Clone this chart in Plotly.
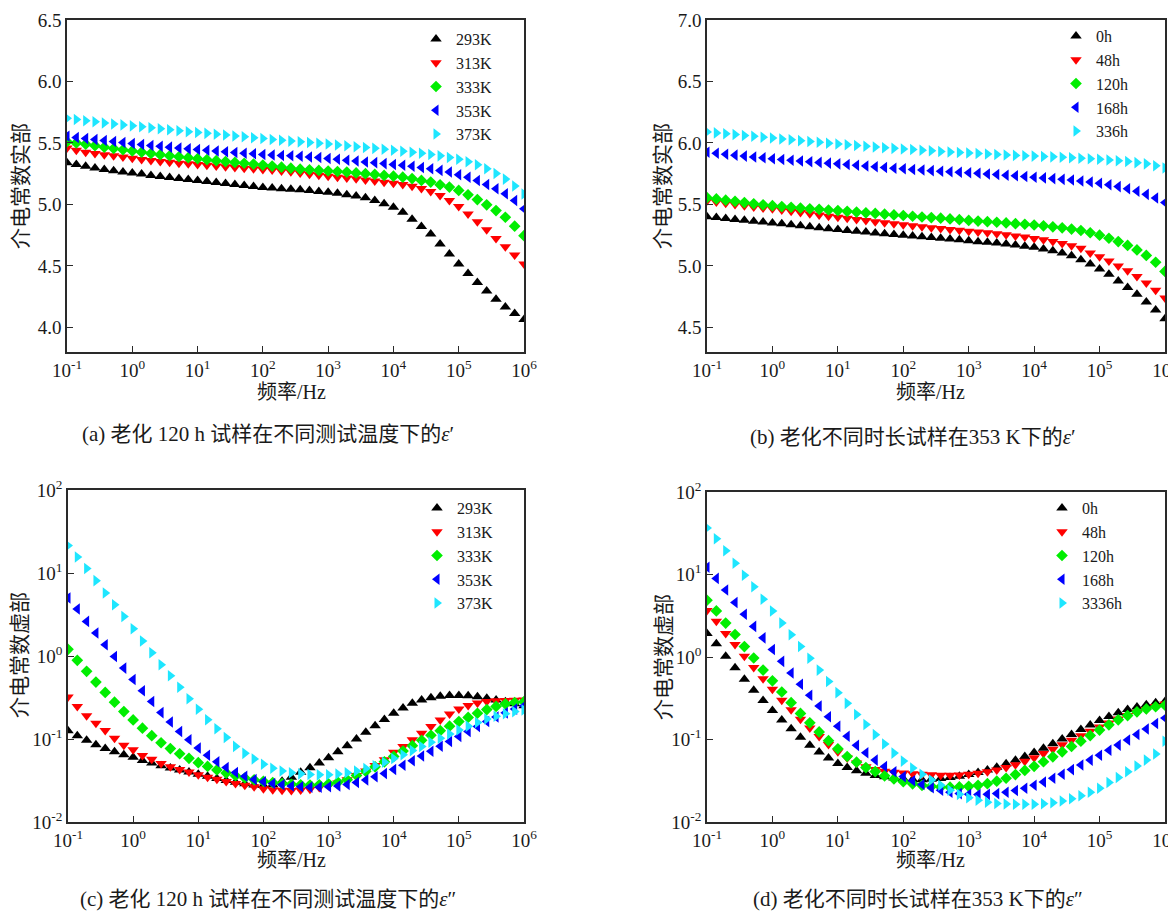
import plotly.graph_objects as go

# page body has an 8px margin: figure is drawn from (8, 8)
PAGE_W, PAGE_H, BODY = 1176, 913, 8
W, H = PAGE_W - BODY, PAGE_H - BODY

# ---------------- data ----------------
freq_hz = [0.1, 0.1389, 0.1931, 0.2683, 0.3728, 0.5179, 0.7197,
           1, 1.389, 1.931, 2.683, 3.728, 5.179, 7.197,
           10, 13.89, 19.31, 26.83, 37.28, 51.79, 71.97,
           100, 138.9, 193.1, 268.3, 372.8, 517.9, 719.7,
           1000, 1389, 1931, 2683, 3728, 5179, 7197,
           1e4, 13895, 19307, 26827, 37276, 51795, 71969,
           1e5, 138950, 193070, 268270, 372760, 517950, 719690, 1e6]

temp_labels = ["293K", "313K", "333K", "353K", "373K"]
age_labels_b = ["0h", "48h", "120h", "168h", "336h"]
age_labels_d = ["0h", "48h", "120h", "168h", "3336h"]

# (a) real part, aged 120 h, different temperatures
a_293K = [5.34, 5.324, 5.31, 5.297, 5.285, 5.275, 5.264, 5.256, 5.247, 5.236,
          5.228, 5.22, 5.21, 5.203, 5.195, 5.187, 5.179, 5.17, 5.163, 5.155,
          5.146, 5.138, 5.133, 5.127, 5.124, 5.12, 5.114, 5.105, 5.10, 5.092,
          5.078, 5.068, 5.054, 5.032, 5.005, 4.978, 4.937, 4.88, 4.82, 4.76,
          4.678, 4.596, 4.515, 4.439, 4.365, 4.297, 4.23, 4.166, 4.114, 4.065]
a_313K = [5.46, 5.44, 5.425, 5.415, 5.405, 5.395, 5.385, 5.375, 5.365, 5.357,
          5.35, 5.343, 5.336, 5.33, 5.324, 5.318, 5.312, 5.306, 5.30, 5.295,
          5.29, 5.285, 5.28, 5.272, 5.265, 5.255, 5.245, 5.238, 5.23, 5.222,
          5.215, 5.208, 5.198, 5.19, 5.18, 5.172, 5.162, 5.148, 5.13, 5.105,
          5.073, 5.032, 4.983, 4.923, 4.86, 4.795, 4.724, 4.656, 4.588, 4.515]
a_333K = [5.51, 5.50, 5.49, 5.478, 5.466, 5.455, 5.445, 5.435, 5.425, 5.415,
          5.405, 5.396, 5.388, 5.38, 5.372, 5.364, 5.356, 5.349, 5.342, 5.335,
          5.328, 5.32, 5.312, 5.303, 5.295, 5.287, 5.282, 5.277, 5.272, 5.268,
          5.263, 5.256, 5.25, 5.244, 5.236, 5.23, 5.222, 5.21, 5.195, 5.182,
          5.16, 5.141, 5.114, 5.078, 5.04, 4.997, 4.95, 4.896, 4.823, 4.746]
a_353K = [5.555, 5.545, 5.537, 5.528, 5.52, 5.512, 5.504, 5.496, 5.488, 5.48,
          5.473, 5.466, 5.459, 5.452, 5.446, 5.44, 5.434, 5.428, 5.422, 5.417,
          5.412, 5.407, 5.402, 5.398, 5.396, 5.392, 5.386, 5.381, 5.373, 5.367,
          5.359, 5.354, 5.345, 5.34, 5.332, 5.324, 5.318, 5.31, 5.30, 5.29,
          5.277, 5.264, 5.242, 5.222, 5.195, 5.163, 5.127, 5.087, 5.032, 4.964]
a_373K = [5.70, 5.69, 5.681, 5.672, 5.663, 5.655, 5.647, 5.639, 5.631, 5.623,
          5.615, 5.607, 5.599, 5.592, 5.585, 5.578, 5.571, 5.564, 5.557, 5.55,
          5.543, 5.536, 5.529, 5.522, 5.515, 5.509, 5.503, 5.497, 5.491, 5.484,
          5.477, 5.47, 5.463, 5.456, 5.449, 5.441, 5.433, 5.425, 5.416, 5.406,
          5.395, 5.382, 5.367, 5.348, 5.322, 5.29, 5.252, 5.206, 5.15, 5.085]

# (b) real part at 353 K, different ageing times
b_0h = [5.40, 5.393, 5.386, 5.378, 5.371, 5.364, 5.357, 5.35, 5.342, 5.334,
        5.326, 5.318, 5.31, 5.303, 5.296, 5.289, 5.282, 5.275, 5.268, 5.262,
        5.256, 5.25, 5.244, 5.238, 5.232, 5.226, 5.219, 5.213, 5.205, 5.197,
        5.192, 5.186, 5.178, 5.17, 5.159, 5.151, 5.137, 5.123, 5.105, 5.083,
        5.05, 5.015, 4.974, 4.933, 4.878, 4.824, 4.77, 4.707, 4.641, 4.571]
b_48h = [5.53, 5.52, 5.51, 5.50, 5.49, 5.48, 5.472, 5.464, 5.454, 5.444,
         5.434, 5.424, 5.414, 5.405, 5.396, 5.387, 5.378, 5.369, 5.36, 5.351,
         5.342, 5.334, 5.326, 5.318, 5.311, 5.304, 5.297, 5.29, 5.283, 5.276,
         5.269, 5.261, 5.253, 5.244, 5.235, 5.224, 5.212, 5.198, 5.182, 5.164,
         5.143, 5.105, 5.075, 5.04, 5.0, 4.96, 4.915, 4.862, 4.803, 4.74]
b_120h = [5.555, 5.545, 5.535, 5.525, 5.515, 5.505, 5.497, 5.49, 5.483, 5.477,
          5.471, 5.465, 5.46, 5.455, 5.45, 5.444, 5.438, 5.432, 5.427, 5.421,
          5.415, 5.41, 5.404, 5.398, 5.393, 5.388, 5.382, 5.376, 5.37, 5.365,
          5.36, 5.355, 5.35, 5.344, 5.339, 5.333, 5.326, 5.318, 5.31, 5.30,
          5.288, 5.27, 5.25, 5.225, 5.198, 5.167, 5.13, 5.085, 5.03, 4.955]
b_168h = [5.925, 5.917, 5.909, 5.901, 5.893, 5.886, 5.879, 5.872, 5.866, 5.86,
          5.854, 5.848, 5.842, 5.836, 5.83, 5.824, 5.818, 5.812, 5.806, 5.80,
          5.795, 5.79, 5.785, 5.78, 5.775, 5.77, 5.766, 5.762, 5.758, 5.753,
          5.748, 5.743, 5.738, 5.733, 5.728, 5.722, 5.716, 5.71, 5.704, 5.698,
          5.69, 5.682, 5.672, 5.66, 5.645, 5.628, 5.607, 5.582, 5.553, 5.515]
b_336h = [6.09, 6.082, 6.075, 6.068, 6.061, 6.054, 6.047, 6.04, 6.033, 6.026,
          6.019, 6.012, 6.005, 5.998, 5.991, 5.985, 5.979, 5.973, 5.967, 5.961,
          5.956, 5.951, 5.946, 5.941, 5.936, 5.931, 5.926, 5.922, 5.918, 5.914,
          5.91, 5.906, 5.902, 5.899, 5.896, 5.893, 5.89, 5.887, 5.883, 5.88,
          5.876, 5.872, 5.867, 5.862, 5.856, 5.849, 5.84, 5.83, 5.815, 5.797]

# (c) imaginary part, aged 120 h, different temperatures  (log10 of eps'')
c_293K_lg = [-0.90, -0.96, -1.015, -1.068, -1.113, -1.155, -1.19, -1.22, -1.258, -1.29,
             -1.322, -1.348, -1.373, -1.397, -1.424, -1.45, -1.475, -1.50, -1.522, -1.54,
             -1.553, -1.56, -1.55, -1.51, -1.46, -1.40, -1.345, -1.29, -1.225, -1.155,
             -1.08, -1.0, -0.92, -0.84, -0.765, -0.69, -0.625, -0.57, -0.53, -0.503,
             -0.485, -0.476, -0.475, -0.48, -0.49, -0.51, -0.53, -0.55, -0.575, -0.60]
c_313K_lg = [-0.495, -0.608, -0.72, -0.81, -0.898, -0.99, -1.075, -1.13, -1.20, -1.245,
             -1.295, -1.333, -1.366, -1.398, -1.432, -1.46, -1.486, -1.512, -1.535, -1.557,
             -1.575, -1.598, -1.61, -1.618, -1.62, -1.615, -1.605, -1.585, -1.56, -1.53,
             -1.49, -1.44, -1.385, -1.32, -1.25, -1.16, -1.09, -1.01, -0.93, -0.85,
             -0.77, -0.70, -0.64, -0.595, -0.565, -0.548, -0.54, -0.535, -0.532, -0.53]
c_333K_lg = [0.08, -0.052, -0.185, -0.314, -0.439, -0.556, -0.67, -0.77, -0.87, -0.96,
             -1.045, -1.115, -1.178, -1.233, -1.285, -1.33, -1.372, -1.41, -1.443, -1.47,
             -1.492, -1.51, -1.525, -1.537, -1.545, -1.552, -1.555, -1.552, -1.54, -1.52,
             -1.49, -1.44, -1.39, -1.335, -1.275, -1.21, -1.145, -1.08, -1.015, -0.955,
             -0.90, -0.845, -0.79, -0.74, -0.69, -0.645, -0.607, -0.578, -0.56, -0.55]
c_353K_lg = [0.70, 0.566, 0.417, 0.276, 0.135, -0.005, -0.146, -0.283, -0.418, -0.549,
             -0.682, -0.795, -0.91, -1.008, -1.109, -1.197, -1.274, -1.344, -1.403, -1.45,
             -1.488, -1.515, -1.535, -1.55, -1.565, -1.575, -1.58, -1.58, -1.575, -1.565,
             -1.547, -1.525, -1.494, -1.456, -1.415, -1.368, -1.316, -1.262, -1.205, -1.148,
             -1.088, -1.03, -0.97, -0.91, -0.85, -0.79, -0.735, -0.685, -0.64, -0.60]
c_373K_lg = [1.33, 1.194, 1.053, 0.908, 0.759, 0.618, 0.477, 0.328, 0.18, 0.04,
             -0.105, -0.239, -0.376, -0.515, -0.642, -0.767, -0.877, -0.982, -1.089, -1.173,
             -1.24, -1.305, -1.353, -1.386, -1.406, -1.42, -1.428, -1.432, -1.43, -1.422,
             -1.406, -1.386, -1.355, -1.322, -1.28, -1.235, -1.19, -1.14, -1.09, -1.04,
             -0.99, -0.94, -0.892, -0.845, -0.80, -0.76, -0.725, -0.695, -0.67, -0.65]

# (d) imaginary part at 353 K, different ageing times  (log10 of eps'')
d_0h_lg = [0.285, 0.16, 0.01, -0.13, -0.271, -0.402, -0.528, -0.65, -0.765, -0.869,
           -0.972, -1.07, -1.152, -1.225, -1.292, -1.339, -1.38, -1.408, -1.435, -1.452,
           -1.467, -1.477, -1.485, -1.487, -1.482, -1.472, -1.46, -1.445, -1.425, -1.40,
           -1.37, -1.335, -1.295, -1.252, -1.205, -1.157, -1.105, -1.052, -0.995, -0.94,
           -0.88, -0.825, -0.77, -0.722, -0.675, -0.635, -0.605, -0.58, -0.555, -0.54]
d_48h_lg = [0.565, 0.432, 0.285, 0.151, 0.008, -0.128, -0.263, -0.39, -0.523, -0.64,
            -0.756, -0.862, -0.964, -1.06, -1.15, -1.225, -1.285, -1.33, -1.365, -1.385,
            -1.398, -1.407, -1.415, -1.422, -1.428, -1.432, -1.433, -1.43, -1.422, -1.41,
            -1.392, -1.37, -1.34, -1.305, -1.265, -1.22, -1.17, -1.118, -1.065, -1.01,
            -0.955, -0.90, -0.848, -0.80, -0.752, -0.71, -0.67, -0.635, -0.60, -0.57]
d_120h_lg = [0.688, 0.558, 0.411, 0.273, 0.126, -0.012, -0.159, -0.289, -0.424, -0.554,
             -0.684, -0.798, -0.908, -1.014, -1.112, -1.206, -1.275, -1.34, -1.389, -1.44,
             -1.479, -1.511, -1.537, -1.556, -1.568, -1.576, -1.578, -1.575, -1.568, -1.556,
             -1.535, -1.505, -1.47, -1.425, -1.375, -1.325, -1.27, -1.21, -1.15, -1.085,
             -1.02, -0.952, -0.886, -0.822, -0.762, -0.71, -0.665, -0.63, -0.603, -0.585]
d_168h_lg = [1.088, 0.953, 0.811, 0.66, 0.517, 0.371, 0.232, 0.09, -0.053, -0.195,
             -0.33, -0.464, -0.595, -0.725, -0.839, -0.961, -1.071, -1.16, -1.25, -1.328,
             -1.392, -1.45, -1.50, -1.545, -1.585, -1.615, -1.64, -1.656, -1.665, -1.668,
             -1.665, -1.656, -1.64, -1.617, -1.59, -1.555, -1.515, -1.47, -1.42, -1.365,
             -1.31, -1.25, -1.19, -1.13, -1.068, -1.005, -0.94, -0.873, -0.806, -0.74]
d_3336h_lg = [1.564, 1.434, 1.287, 1.136, 0.99, 0.851, 0.701, 0.558, 0.411, 0.269,
              0.126, -0.016, -0.159, -0.297, -0.432, -0.562, -0.697, -0.819, -0.941, -1.055,
              -1.165, -1.262, -1.345, -1.42, -1.49, -1.555, -1.615, -1.665, -1.705, -1.737,
              -1.76, -1.775, -1.783, -1.786, -1.786, -1.784, -1.778, -1.766, -1.746, -1.718,
              -1.682, -1.64, -1.59, -1.52, -1.46, -1.39, -1.32, -1.25, -1.175, -1.02]

x_tick_vals = [0.1, 1, 10, 100, 1e3, 1e4, 1e5, 1e6]
x_tick_text = ["10<sup>-1</sup>", "10<sup>0</sup>", "10<sup>1</sup>", "10<sup>2</sup>",
               "10<sup>3</sup>", "10<sup>4</sup>", "10<sup>5</sup>", "10<sup>6</sup>"]
log_y_vals = [0.01, 0.1, 1, 10, 100]
log_y_text = ["10<sup>-2</sup>", "10<sup>-1</sup>", "10<sup>0</sup>", "10<sup>1</sup>", "10<sup>2</sup>"]

x_title = "频率/Hz"
y_titles = ["介电常数实部", "介电常数实部", "介电常数虚部", "介电常数虚部"]
captions = ["(a) 老化 120 h 试样在不同测试温度下的<i>ε</i>′",
            "(b) 老化不同时长试样在353 K下的<i>ε</i>′",
            "(c) 老化 120 h 试样在不同测试温度下的<i>ε</i>″",
            "(d) 老化不同时长试样在353 K下的<i>ε</i>″"]

# ---------------- styling ----------------
symbols = ["triangle-up", "triangle-down", "diamond", "triangle-left", "triangle-right"]
sizes = [10, 10, 9, 10, 10]
colors = ["#000000", "#ff0000", "#00ee00", "#0000ff", "#1ee6ff"]
FONT = "Liberation Serif, Times New Roman, Noto Sans CJK SC, serif"
TXT = "#1a1a1a"
AX = "#2a2a2a"


def px_x(x):
    """page pixel x -> paper fraction"""
    return (x - BODY) / W


def px_y(y):
    """page pixel y -> paper fraction"""
    return 1 - (y - BODY) / H


# plot-area boxes in page pixels: (left, right, top, bottom)
boxes = {
    "a": (67, 524, 20, 352),
    "b": (707, 1165, 20, 352),
    "c": (68, 524, 490, 822),
    "d": (707, 1165, 492, 822),
}

fig = go.Figure()

panels = [
    ("a", [a_293K, a_313K, a_333K, a_353K, a_373K], temp_labels, False),
    ("b", [b_0h, b_48h, b_120h, b_168h, b_336h], age_labels_b, False),
    ("c", [c_293K_lg, c_313K_lg, c_333K_lg, c_353K_lg, c_373K_lg], temp_labels, True),
    ("d", [d_0h_lg, d_48h_lg, d_120h_lg, d_168h_lg, d_3336h_lg], age_labels_d, True),
]

for pi, (key, series, labels, is_log) in enumerate(panels):
    n = pi + 1
    xa = "x" if n == 1 else f"x{n}"
    ya = "y" if n == 1 else f"y{n}"
    leg = "legend" if n == 1 else f"legend{n}"
    for si, (vals, lab) in enumerate(zip(series, labels)):
        yv = [10 ** v for v in vals] if is_log else vals
        fig.add_trace(go.Scatter(
            x=freq_hz, y=yv, mode="markers", name=lab,
            xaxis=xa, yaxis=ya, legend=leg,
            marker=dict(symbol=symbols[si], size=sizes[si], color=colors[si],
                        line=dict(width=0)),
        ))

layout = dict(
    width=W, height=H,
    margin=dict(l=0, r=0, t=0, b=0, autoexpand=False),
    paper_bgcolor="white", plot_bgcolor="white",
    font=dict(family=FONT, size=19, color=TXT),
    showlegend=True,
)

for pi, key in enumerate(["a", "b", "c", "d"]):
    n = pi + 1
    l, r, t, b = boxes[key]
    xk = "xaxis" if n == 1 else f"xaxis{n}"
    yk = "yaxis" if n == 1 else f"yaxis{n}"
    xa = "x" if n == 1 else f"x{n}"
    ya = "y" if n == 1 else f"y{n}"
    common = dict(showline=True, linecolor=AX, linewidth=1.6, mirror=True,
                  ticks="inside", ticklen=6, tickwidth=1.4, tickcolor=AX,
                  showgrid=False, zeroline=False, automargin=False,
                  ticklabeloverflow="allow",
                  tickfont=dict(family=FONT, size=19, color=TXT))
    layout[xk] = dict(common, type="log", range=[-1, 6], domain=[px_x(l), px_x(r)],
                      anchor=ya, tickvals=x_tick_vals, ticktext=x_tick_text)
    if key in ("a", "b"):
        rng = [3.8, 6.5] if key == "a" else [4.3, 7.0]
        tv = [4.0, 4.5, 5.0, 5.5, 6.0, 6.5] if key == "a" else [4.5, 5.0, 5.5, 6.0, 6.5, 7.0]
        layout[yk] = dict(common, type="linear", range=rng, domain=[px_y(b), px_y(t)],
                          anchor=xa, tickvals=tv, tickformat=".1f")
    else:
        layout[yk] = dict(common, type="log", range=[-2, 2], domain=[px_y(b), px_y(t)],
                          anchor=xa, tickvals=log_y_vals, ticktext=log_y_text)

# legends (top-right inside each panel)
leg_pos = {"a": (416, 22), "b": (1056, 19), "c": (417, 491), "d": (1042, 491)}
for pi, key in enumerate(["a", "b", "c", "d"]):
    n = pi + 1
    lk = "legend" if n == 1 else f"legend{n}"
    lx, ly = leg_pos[key]
    layout[lk] = dict(x=px_x(lx), y=px_y(ly), xanchor="left", yanchor="top",
                      bgcolor="rgba(0,0,0,0)", borderwidth=0,
                      font=dict(family=FONT, size=16, color=TXT),
                      itemsizing="trace", tracegroupgap=0)

fig.update_layout(**layout)

# axis titles
xt_pos = [(291, 392), (930, 392), (291, 860), (930, 860)]
yt_pos = [(21, 186), (663, 186), (20, 655), (664, 657)]
for (xx, xy), (yx, yy), yt in zip(xt_pos, yt_pos, y_titles):
    fig.add_annotation(x=px_x(xx), y=px_y(xy), xref="paper", yref="paper",
                       text=x_title, showarrow=False, xanchor="center", yanchor="middle",
                       font=dict(family=FONT, size=20, color=TXT))
    fig.add_annotation(x=px_x(yx), y=px_y(yy), xref="paper", yref="paper",
                       text=yt, showarrow=False, xanchor="center", yanchor="middle",
                       textangle=-90, font=dict(family=FONT, size=21, color=TXT))

# captions below each panel
cap_pos = [(268, 434), (913, 437), (268, 899), (918, 899)]
for (cx, cy), txt in zip(cap_pos, captions):
    fig.add_annotation(x=px_x(cx), y=px_y(cy), xref="paper", yref="paper",
                       text=txt, showarrow=False, xanchor="center", yanchor="middle",
                       font=dict(family=FONT, size=21, color=TXT))

fig.write_html("out.html")
